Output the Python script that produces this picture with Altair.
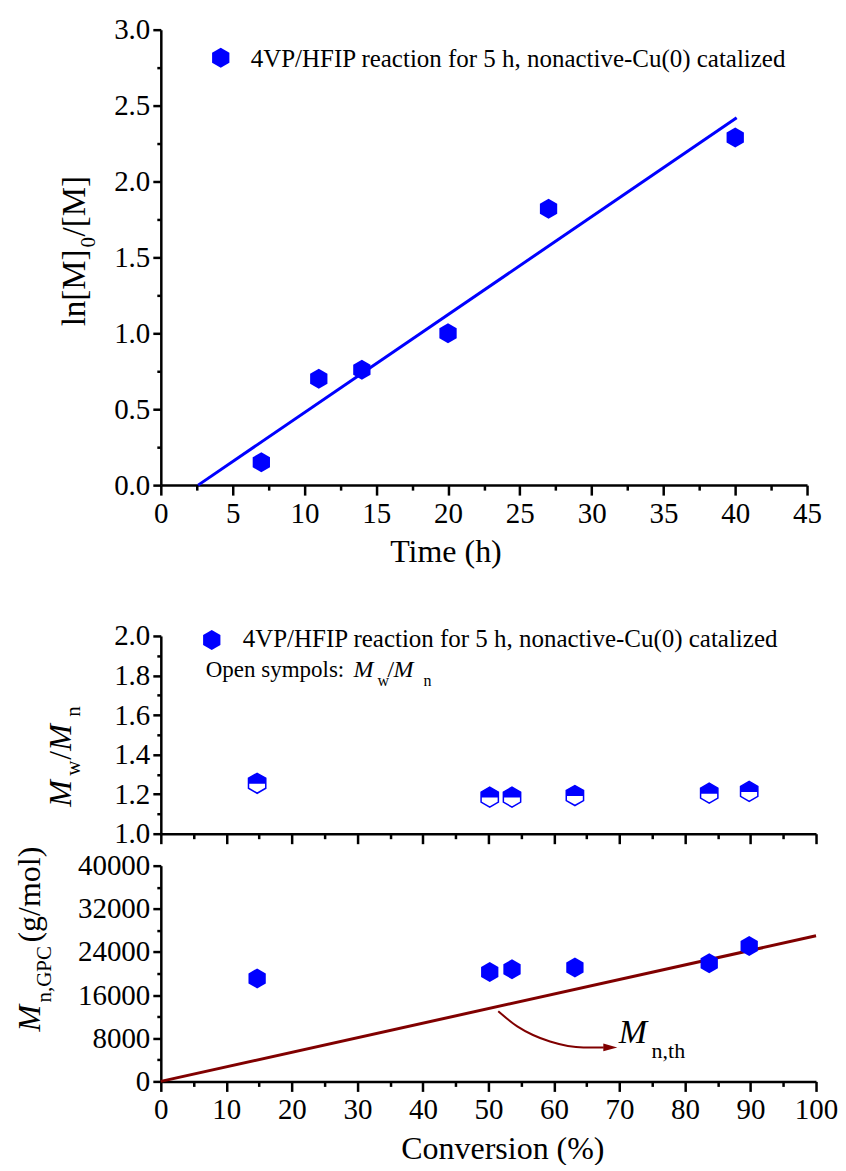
import altair as alt
import pandas as pd

FONT = "Liberation Serif"
BLUE = "#0000FF"
DARK_RED = "#800000"
HEX = "M0,-1L0.866,-0.5L0.866,0.5L0,1L-0.866,0.5L-0.866,-0.5Z"
HEX_TOP = "M0,-1L0.866,-0.5L0.866,0.05L-0.866,0.05L-0.866,-0.5Z"
ARROW_HEAD = "M-1,-0.55L1,0L-1,0.55Z"

# ---------------- data ----------------
time_h = [7, 11, 14, 20, 27, 40]
ln_m0_m = [0.15, 0.70, 0.76, 1.00, 1.82, 2.29]
fit_time_h = [2.6, 40.1]
fit_ln = [0.0, 2.42]

conversion = [14.7, 50.2, 53.6, 63.2, 83.7, 89.8]
mw_mn = [1.255, 1.185, 1.185, 1.193, 1.205, 1.214]
mn_gpc = [19100, 20300, 20800, 21100, 21900, 25100]

mn_th_conv = [0, 100]
mn_th = [0, 27000]

arrow_conv = [51.5, 54.4, 56.8, 59.4, 64.5, 67.6]
arrow_mn = [13000, 10200, 8600, 7400, 6300, 6300]
arrow_tip_conv = [68.6]
arrow_tip_mn = [6300]

label_m_conv = [69.9]
label_m_mn = [7040]
label_sub_conv = [74.9]
label_sub_mn = [4260]

time_ticks = [round(i * 2.5, 2) for i in range(19)]
ln_ticks = [round(i * 0.25, 2) for i in range(13)]
conv_ticks = [i * 5 for i in range(21)]
pdi_ticks = [round(1 + i * 0.1, 1) for i in range(11)]
mn_ticks = [i * 4000 for i in range(11)]

legend_text = "4VP/HFIP reaction for 5 h, nonactive-Cu(0) catalized"

one = pd.DataFrame({"k": [0]})


def major_test(step):
    return f"abs(datum.value / {step} - round(datum.value / {step})) < 1e-6"


def make_axis(values, step, major, minor, fmt=None, labels=True, title=None,
              title_x=None, title_y=None, pad=4):
    test = major_test(step)
    kw = dict(
        values=values,
        tickSize={"condition": {"test": test, "value": major}, "value": minor},
        labelExpr=f"{test} ? datum.label : ''",
        labelOverlap=False,
        labelFlush=False,
        labelPadding=pad,
        grid=False,
        labels=labels,
        title=title,
    )
    if fmt:
        kw["format"] = fmt
    if title is not None:
        kw.update(titleX=title_x, titleY=title_y, titleAlign="center",
                  titleBaseline="alphabetic", titleFontSize=32)
    return alt.Axis(**kw)


def txt(text, x, y, size, angle=0, italic=False, color="black"):
    props = dict(text=text, font=FONT, fontSize=size, align="left",
                 baseline="alphabetic", color=color)
    if angle:
        props["angle"] = angle
    if italic:
        props["fontStyle"] = "italic"
    return alt.Chart(one).mark_text(**props).encode(x=alt.value(x), y=alt.value(y))


# ---------------- top panel ----------------
tx = alt.X("t:Q", scale=alt.Scale(domain=[0, 45], nice=False, zero=False),
           axis=make_axis(time_ticks, 5, 10, 5, title="Time (h)",
                          title_x=285, title_y=76))
ty = alt.Y("v:Q", scale=alt.Scale(domain=[0, 3], nice=False),
           axis=make_axis(ln_ticks, 0.5, 8, 4, fmt=".1f", pad=3))

top_pts = pd.DataFrame({"t": time_h, "v": ln_m0_m})
top_fit = pd.DataFrame({"t": fit_time_h, "v": fit_ln})

top = alt.layer(
    alt.Chart(top_fit).mark_line(color=BLUE, strokeWidth=3).encode(x=tx, y=ty),
    alt.Chart(top_pts).mark_point(shape=HEX, size=400, filled=True, color=BLUE,
                                  opacity=1).encode(x=tx, y=ty),
    alt.Chart(one).mark_point(shape=HEX, size=400, filled=True, color=BLUE,
                              opacity=1).encode(x=alt.value(60), y=alt.value(28)),
    txt(legend_text, 90, 37, 25),
    txt("ln[M]", -76, 297, 33, angle=270),
    txt("0", -66, 218, 21, angle=270),
    txt("/[M]", -76, 207, 33, angle=270),
).properties(width=647, height=456)

# ---------------- middle panel ----------------
mx = alt.X("c:Q", scale=alt.Scale(domain=[0, 100], nice=False, zero=False),
           axis=make_axis(conv_ticks, 10, 10, 5, labels=False))
my = alt.Y("p:Q", scale=alt.Scale(domain=[1, 2], nice=False, zero=False,
                                  range=[317, 119]),
           axis=make_axis(pdi_ticks, 0.2, 8, 4, fmt=".1f", pad=3))

mid_pts = pd.DataFrame({"c": conversion, "p": mw_mn})

mid = alt.layer(
    alt.Chart(mid_pts).mark_point(shape=HEX, size=400, filled=True, fill="white",
                                  stroke=BLUE, strokeWidth=1.5, opacity=1).encode(x=mx, y=my),
    alt.Chart(mid_pts).mark_point(shape=HEX_TOP, size=400, filled=True, color=BLUE,
                                  opacity=1).encode(x=mx, y=my),
    alt.Chart(one).mark_point(shape=HEX, size=400, filled=True, color=BLUE,
                              opacity=1).encode(x=alt.value(51), y=alt.value(123)),
    txt(legend_text, 82, 130, 25),
    txt("Open sympols:", 45, 160, 23),
    txt("M", 193, 160, 24, italic=True),
    txt("w", 217, 169, 16),
    txt("/", 227, 160, 24),
    txt("M", 233, 160, 24, italic=True),
    txt("n", 263, 169, 16),
    txt("M", -90, 290, 32, angle=270, italic=True),
    txt("w", -81, 259, 21, angle=270),
    txt("/", -90, 243, 32, angle=270),
    txt("M", -90, 234, 32, angle=270, italic=True),
    txt("n", -81, 200, 21, angle=270),
).properties(width=656, height=317)

# ---------------- bottom panel ----------------
bx = alt.X("c:Q", scale=alt.Scale(domain=[0, 100], nice=False, zero=False),
           axis=make_axis(conv_ticks, 10, 10, 5, title="Conversion (%)",
                          title_x=342, title_y=77))
by = alt.Y("m:Q", scale=alt.Scale(domain=[0, 40000], nice=False),
           axis=make_axis(mn_ticks, 8000, 8, 4, fmt="d", pad=3))

bot_pts = pd.DataFrame({"c": conversion, "m": mn_gpc})
bot_th = pd.DataFrame({"c": mn_th_conv, "m": mn_th})
bot_arrow = pd.DataFrame({"c": arrow_conv, "m": arrow_mn})
bot_tip = pd.DataFrame({"c": arrow_tip_conv, "m": arrow_tip_mn})
bot_lab_m = pd.DataFrame({"c": label_m_conv, "m": label_m_mn})
bot_lab_s = pd.DataFrame({"c": label_sub_conv, "m": label_sub_mn})

bot = alt.layer(
    alt.Chart(bot_th).mark_line(color=DARK_RED, strokeWidth=3).encode(x=bx, y=by),
    alt.Chart(bot_pts).mark_point(shape=HEX, size=400, filled=True, color=BLUE,
                                  opacity=1).encode(x=bx, y=by),
    alt.Chart(bot_arrow).mark_line(color=DARK_RED, strokeWidth=2,
                                   interpolate="monotone").encode(x=bx, y=by),
    alt.Chart(bot_tip).mark_point(shape=ARROW_HEAD, size=196, filled=True,
                                  color=DARK_RED, opacity=1).encode(x=bx, y=by),
    alt.Chart(bot_lab_m).mark_text(text="M", font=FONT, fontSize=34, fontStyle="italic",
                                   align="left", baseline="alphabetic",
                                   color="black").encode(x=bx, y=by),
    alt.Chart(bot_lab_s).mark_text(text="n,th", font=FONT, fontSize=22,
                                   align="left", baseline="alphabetic",
                                   color="black").encode(x=bx, y=by),
    txt("M", -121, 166, 32, angle=270, italic=True),
    txt("n,GPC", -110, 137, 21, angle=270),
    txt("(g/mol)", -121, 77, 32, angle=270),
).properties(width=656, height=216)

chart = alt.vconcat(top, mid, bot, spacing=32, bounds="flush").properties(
    padding={"left": 5, "top": 7, "right": 0, "bottom": 0}
).configure_view(stroke=None).configure_axis(
    domainColor="black", domainWidth=2.5, tickColor="black", tickWidth=2.5,
    labelFont=FONT, labelFontSize=29, labelColor="black",
    titleFont=FONT, titleFontSize=32, titleFontWeight="normal", titleColor="black",
)

chart.save("out.html", embed_options={"renderer": "svg", "actions": False})
